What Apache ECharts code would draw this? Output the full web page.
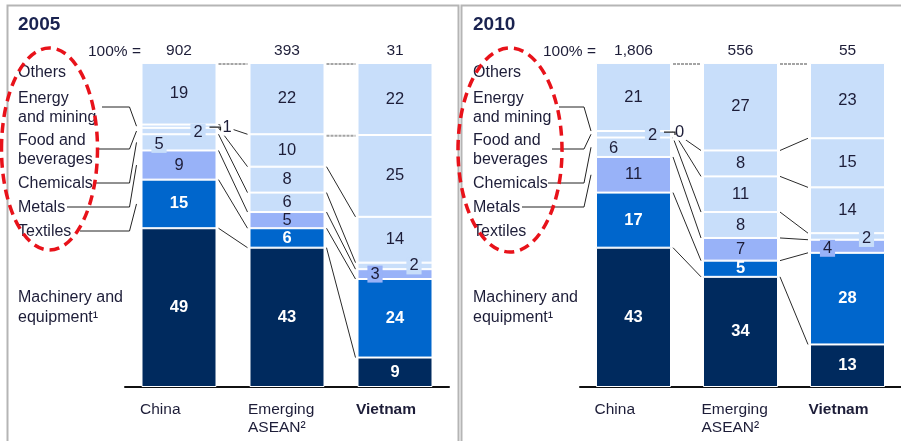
<!DOCTYPE html>
<html><head><meta charset="utf-8">
<script src="https://cdn.jsdelivr.net/npm/echarts@6/dist/echarts.min.js"></script>
<style>html,body{margin:0;padding:0;background:#fff}#c{width:901px;height:441px}</style>
</head><body><div id="c"></div>
<script>
// ---------- DATA ----------
const categories = ['China', 'Emerging\nASEAN²', 'Vietnam'];
// sectors listed bottom -> top
const sectors = ['Machinery and equipment¹', 'Textiles', 'Metals', 'Chemicals', 'Food and beverages', 'Energy and mining', 'Others'];
const years = ['2005', '2010'];
const totals2005 = ['902', '393', '31'];
const totals2010 = ['1,806', '556', '55'];
// values (%) per country [China, Emerging ASEAN, Vietnam]
const machinery2005 = [49, 43, 9];
const textiles2005 = [15, 6, 24];
const metals2005 = [9, 5, 3];
const chemicals2005 = [5, 6, 2];
const food2005 = [2, 8, 14];
const energy2005 = [1, 10, 25];
const others2005 = [19, 22, 22];
const machinery2010 = [43, 34, 13];
const textiles2010 = [17, 5, 28];
const metals2010 = [11, 7, 4];
const chemicals2010 = [6, 8, 2];
const food2010 = [2, 11, 14];
const energy2010 = [0, 8, 15];
const others2010 = [21, 27, 23];

// ---------- STYLE ----------
const FONT = '"Liberation Sans", Arial, Helvetica, sans-serif';
const TXT = '#1d1d38';
const NAVY = '#002a5e', BLUE = '#0066cc', PERI = '#98b2f8', LIGHT = '#c8defa';
const sectorColors = [NAVY, BLUE, PERI, LIGHT, LIGHT, LIGHT, LIGHT];
const BARW = 75;
const gridLefts = [125, 580];
const DX = 455; // horizontal offset of second panel

const panels = [
  { year: years[0], totals: totals2005, vals: [machinery2005, textiles2005, metals2005, chemicals2005, food2005, energy2005, others2005] },
  { year: years[1], totals: totals2010, vals: [machinery2010, textiles2010, metals2010, chemicals2010, food2010, energy2010, others2010] }
];

// label overrides for thin segments: key panel-sector-country
const overrides = {
  '0-5-0': { offset: [48, 1], backgroundColor: '#fff', padding: [0, 2] },
  '0-4-0': { offset: [19, 1], backgroundColor: LIGHT, padding: [0, 3] },
  '0-3-0': { offset: [-20, 2], backgroundColor: LIGHT, padding: [0, 3] },
  '0-3-2': { offset: [19, 0], backgroundColor: LIGHT, padding: [0, 3] },
  '0-2-2': { offset: [-20, 0], backgroundColor: PERI, padding: [0, 3] },
  '1-5-0': { offset: [46, 1], backgroundColor: '#fff', padding: [0, 2] },
  '1-4-0': { offset: [19, 1], backgroundColor: LIGHT, padding: [0, 3] },
  '1-3-0': { offset: [-20, 1] },
  '1-3-2': { offset: [19, 2], backgroundColor: LIGHT, padding: [0, 3] },
  '1-2-2': { offset: [-20, 2], backgroundColor: PERI, padding: [0, 3] }
};

// left-hand sector labels (text lines) and leader line anchors
const sideLabels = [
  { t: 'Others', y: 73 },
  { t: 'Energy', y: 99 }, { t: 'and mining', y: 118 },
  { t: 'Food and', y: 141 }, { t: 'beverages', y: 160 },
  { t: 'Chemicals', y: 184 },
  { t: 'Metals', y: 208 },
  { t: 'Textiles', y: 232 },
  { t: 'Machinery and', y: 298 }, { t: 'equipment¹', y: 318 }
];
const leaders = [
  [{ s: 5, x: 102, y: 107 }, { s: 4, x: 97, y: 149 }, { s: 3, x: 93, y: 183 }, { s: 2, x: 67, y: 207 }, { s: 1, x: 80, y: 231 }],
  [{ s: 5, x: 104, y: 107 }, { s: 4, x: 97, y: 149 }, { s: 3, x: 93, y: 183 }, { s: 2, x: 67, y: 207 }]
];

const grid = [], xAxis = [], yAxis = [], series = [], graphic = [];

panels.forEach((P, p) => {
  const sums = [0, 1, 2].map(i => P.vals.reduce((a, arr) => a + arr[i], 0));
  grid.push({ left: gridLefts[p], top: 63, width: 324, height: 324 });
  xAxis.push({
    type: 'category', gridIndex: p, position: 'bottom', data: categories,
    axisLine: { lineStyle: { color: '#111', width: 2 } }, axisTick: { show: false },
    axisLabel: {
      margin: 14, interval: 0,
      formatter: v => v.split('\n').map(s => (v === 'Vietnam' ? '{b|' : '{a|') + s + '}').join('\n'),
      rich: {
        a: { width: 78, align: 'left', fontSize: 15.5, fontFamily: FONT, color: TXT, lineHeight: 18 },
        b: { width: 78, align: 'left', fontSize: 15.5, fontFamily: FONT, color: TXT, lineHeight: 18, fontWeight: 'bold' }
      }
    }
  });
  xAxis.push({
    type: 'category', gridIndex: p, position: 'top', data: P.totals,
    axisLine: { show: false }, axisTick: { show: false },
    axisLabel: { margin: 4, color: TXT, fontSize: 15.5, fontFamily: FONT, interval: 0 }
  });
  yAxis.push({ type: 'value', gridIndex: p, min: 0, max: 100, show: false });

  P.vals.forEach((arr, s) => {
    series.push({
      type: 'bar', name: sectors[s] + ' ' + P.year, xAxisIndex: p * 2, yAxisIndex: p,
      stack: 'st' + p, barWidth: BARW, z: 2, animation: false,
      itemStyle: { color: sectorColors[s], borderColor: '#fff', borderWidth: 1 },
      label: {
        show: true, position: 'inside', formatter: prm => String(prm.data.raw),
        fontFamily: FONT, fontSize: 16.5, color: s < 2 ? '#fff' : TXT, fontWeight: s < 2 ? 'bold' : 'normal'
      },
      data: arr.map((v, i) => {
        const item = { value: v / sums[i] * 100, raw: v };
        const o = overrides[p + '-' + s + '-' + i];
        if (o) item.label = o;
        return item;
      })
    });
  });

  const cumTop = [0, 1, 2].map(i => { const r = [0]; let acc = 0; for (let s = 6; s >= 1; s--) { acc += P.vals[s][i]; r.push(acc); } return r; });
  const midShare = (s, i) => { let b = 0; for (let k = 0; k < s; k++) b += P.vals[k][i]; return (b + P.vals[s][i] / 2) / sums[i] * 100; };

  series.push({
    type: 'custom', xAxisIndex: p * 2, yAxisIndex: p, z: 1, silent: true, clip: false, animation: false,
    data: [[0, 0]],
    renderItem: (params, api) => {
      const ch = [];
      const xc = i => api.coord([i, 0])[0];
      const yOf = (i, k) => api.coord([i, 100 - cumTop[i][k] / sums[i] * 100])[1];
      for (let i = 0; i < 2; i++) {
        for (let k = 0; k < 7; k++) {
          const gray = k === 0 || (k === 1 && cumTop[i][1] === cumTop[i + 1][1]);
          const x1 = xc(i) + BARW / 2 + 2, x2 = xc(i + 1) - BARW / 2 - 2;
          let y1 = yOf(i, k), y2 = yOf(i + 1, k);
          if (gray) { const y = (y1 + y2) / 2 + 1; y1 = y; y2 = y; }
          ch.push({ type: 'line', shape: { x1, y1, x2, y2 },
            style: gray ? { stroke: '#a4a4a4', lineWidth: 2, lineDash: [3, 1] } : { stroke: '#2a2a2a', lineWidth: 1 } });
        }
      }
      const xl = xc(0) - BARW / 2;
      leaders[p].forEach(L => {
        const ym = api.coord([0, midShare(L.s, 0)])[1];
        ch.push({ type: 'polyline', shape: { points: [[L.x + p * DX, L.y], [xl - 12, L.y], [xl - 5, ym]] },
          style: { stroke: '#222', lineWidth: 1, fill: null } });
      });
      return { type: 'group', children: ch };
    }
  });
  series.push({
    type: 'custom', xAxisIndex: p * 2, yAxisIndex: p, z: 3, silent: true, clip: false, animation: false,
    data: [[0, 0]],
    renderItem: (params, api) => {
      const xr = api.coord([0, 0])[0] + BARW / 2;
      const y = api.coord([0, midShare(5, 0)])[1] + 1;
      return { type: 'polyline', shape: { points: [[xr - 7, y], [xr + 4, y], [xr + 4, y + 3]] },
        style: { stroke: '#222', lineWidth: 1.2, fill: null } };
    }
  });

  const ox = p * DX;
  graphic.push({ type: 'text', x: 18 + ox, y: 25, style: { text: P.year, fontSize: 19, fontWeight: 'bold', fontFamily: FONT, fill: '#1a2350', verticalAlign: 'middle', textVerticalAlign: 'middle' } });
  graphic.push({ type: 'text', x: 88 + ox, y: 52, style: { text: '100% =', fontSize: 15.5, fontFamily: FONT, fill: TXT, verticalAlign: 'middle', textVerticalAlign: 'middle' } });
  sideLabels.forEach(L => {
    graphic.push({ type: 'text', x: 18 + ox, y: L.y, style: { text: L.t, fontSize: 16, fontFamily: FONT, fill: TXT, verticalAlign: 'middle', textVerticalAlign: 'middle' } });
  });
});

graphic.push({ type: 'polyline', shape: { points: [[7.5, 441], [7.5, 5.5], [458.5, 5.5], [458.5, 441]] }, style: { stroke: '#b5b5b5', lineWidth: 2, fill: null } });
graphic.push({ type: 'polyline', shape: { points: [[461.5, 441], [461.5, 5.5], [901, 5.5]] }, style: { stroke: '#b5b5b5', lineWidth: 2, fill: null } });
graphic.push({ type: 'ellipse', shape: { cx: 49.5, cy: 149, rx: 48, ry: 101 }, style: { fill: null, stroke: '#e8121a', lineWidth: 3.5, lineDash: [10, 6] }, z: 10 });
graphic.push({ type: 'ellipse', shape: { cx: 510, cy: 150, rx: 52, ry: 102 }, style: { fill: null, stroke: '#e8121a', lineWidth: 3.5, lineDash: [10, 6] }, z: 10 });

const chart = echarts.init(document.getElementById('c'), null, { renderer: 'canvas' });
chart.setOption({ animation: false, grid, xAxis, yAxis, series, graphic });
</script>
</body></html>
